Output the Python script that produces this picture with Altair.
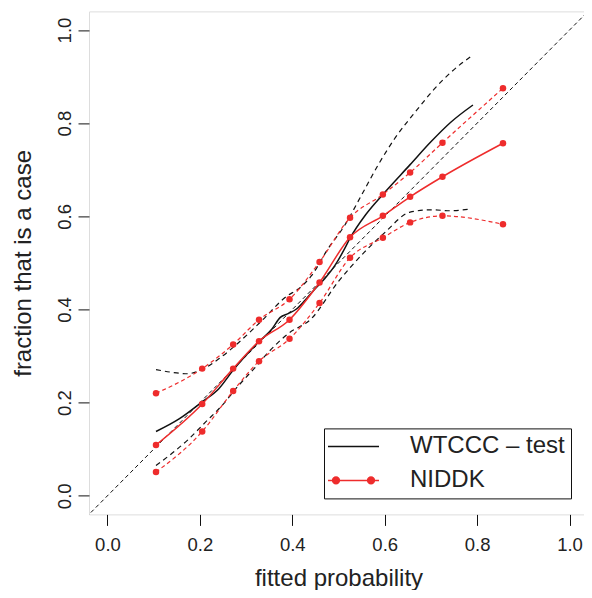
import altair as alt
import pandas as pd

# ---------------- data ----------------
niddk_x = [0.105, 0.205, 0.272, 0.328, 0.394, 0.459, 0.525, 0.596, 0.655, 0.725, 0.856]
niddk_fit = [0.109, 0.197, 0.273, 0.332, 0.378, 0.458, 0.555, 0.601, 0.642, 0.685, 0.757]
niddk_hi = [0.220, 0.273, 0.325, 0.378, 0.422, 0.502, 0.597, 0.647, 0.694, 0.758, 0.875]
niddk_lo = [0.051, 0.138, 0.225, 0.289, 0.337, 0.414, 0.511, 0.554, 0.587, 0.601, 0.583]

wt_fit_x = [0.105, 0.155, 0.204, 0.241, 0.273, 0.327, 0.356, 0.374, 0.391, 0.409, 0.427,
            0.449, 0.470, 0.492, 0.513, 0.525, 0.560, 0.596, 0.655, 0.700, 0.743, 0.791]
wt_fit_y = [0.138, 0.165, 0.201, 0.230, 0.271, 0.330, 0.358, 0.383, 0.391, 0.401, 0.419,
            0.444, 0.466, 0.494, 0.530, 0.553, 0.605, 0.647, 0.711, 0.760, 0.802, 0.839]

wt_up_x = [0.105, 0.140, 0.173, 0.204, 0.241, 0.277, 0.330, 0.390, 0.413, 0.442, 0.477,
           0.513, 0.549, 0.585, 0.621, 0.671, 0.707, 0.743, 0.789]
wt_up_y = [0.271, 0.265, 0.262, 0.271, 0.294, 0.323, 0.372, 0.430, 0.444, 0.473, 0.530,
           0.580, 0.644, 0.709, 0.766, 0.830, 0.873, 0.909, 0.945]

wt_lo_x = [0.105, 0.176, 0.212, 0.248, 0.284, 0.320, 0.348, 0.391, 0.441, 0.499, 0.556,
           0.600, 0.655, 0.700, 0.743, 0.786]
wt_lo_y = [0.065, 0.122, 0.158, 0.194, 0.237, 0.276, 0.308, 0.348, 0.380, 0.459, 0.523,
           0.565, 0.609, 0.614, 0.612, 0.616]

diag_v = [-0.1, 1.1]

series_names = ["WTCCC \u2013 test", "NIDDK"]
x_ticks = [0.0, 0.2, 0.4, 0.6, 0.8, 1.0]
y_ticks = [0.0, 0.2, 0.4, 0.6, 0.8, 1.0]

RED = "#EE2C2C"
BLACK = "#111111"
TXT = "#222222"
FONT = "Liberation Sans"

# ---------------- tables ----------------
diag_df = pd.DataFrame({"x": diag_v, "y": diag_v})
wt_fit_df = pd.DataFrame({"x": wt_fit_x, "y": wt_fit_y})
wt_band_df = pd.concat([
    pd.DataFrame({"x": wt_up_x, "y": wt_up_y, "band": "upper"}),
    pd.DataFrame({"x": wt_lo_x, "y": wt_lo_y, "band": "lower"}),
])
ni_fit_df = pd.DataFrame({"x": niddk_x, "y": niddk_fit})
ni_band_df = pd.concat([
    pd.DataFrame({"x": niddk_x, "y": niddk_hi, "band": "upper"}),
    pd.DataFrame({"x": niddk_x, "y": niddk_lo, "band": "lower"}),
])
ni_pts_df = pd.concat([
    pd.DataFrame({"x": niddk_x, "y": niddk_fit}),
    pd.DataFrame({"x": niddk_x, "y": niddk_hi}),
    pd.DataFrame({"x": niddk_x, "y": niddk_lo}),
])
legend_df = pd.DataFrame({"series": series_names, "x": [0.5, 0.5], "y": [0.5, 0.5]})

xscale = alt.Scale(domain=[-0.04, 1.04], nice=False, zero=False)
yscale = alt.Scale(domain=[-0.04, 1.04], nice=False, zero=False)

axis_common = dict(
    domain=False, grid=False, ticks=True, tickSize=11, tickColor=BLACK, tickWidth=1,
    labelFont=FONT, labelFontSize=18.5, labelColor=TXT, format=".1f",
    titleFont=FONT, titleFontSize=24, titleFontWeight="normal", titleColor=TXT,
)
xaxis = alt.Axis(values=x_ticks, title="fitted probability", labelPadding=10,
                 titlePadding=12.5, **axis_common)
yaxis = alt.Axis(values=y_ticks, title="fraction that is a case", labelAngle=270,
                 labelPadding=4, titlePadding=20, **axis_common)

X = alt.X("x:Q", scale=xscale, axis=xaxis)
Y = alt.Y("y:Q", scale=yscale, axis=yaxis)
Xn = alt.X("x:Q", scale=xscale)
Yn = alt.Y("y:Q", scale=yscale)

diag = alt.Chart(diag_df).mark_line(
    color=BLACK, strokeWidth=1.0, strokeDash=[4, 3], clip=True
).encode(x=X, y=Y)

wt_band = alt.Chart(wt_band_df).mark_line(
    color=BLACK, strokeWidth=1.2, strokeDash=[5, 4], interpolate="monotone"
).encode(x=Xn, y=Yn, detail="band:N", order="x:Q")

wt_fit = alt.Chart(wt_fit_df).mark_line(
    color=BLACK, strokeWidth=1.5, interpolate="monotone"
).encode(x=Xn, y=Yn, order="x:Q")

ni_band = alt.Chart(ni_band_df).mark_line(
    color=RED, strokeWidth=1.2, strokeDash=[4, 3], interpolate="monotone"
).encode(x=Xn, y=Yn, detail="band:N", order="x:Q")

ni_fit = alt.Chart(ni_fit_df).mark_line(
    color=RED, strokeWidth=1.5, interpolate="monotone"
).encode(x=Xn, y=Yn, order="x:Q")

ni_pts = alt.Chart(ni_pts_df).mark_circle(
    color=RED, size=42, opacity=1
).encode(x=Xn, y=Yn)

# legend symbols: custom paths (line, and line with two dots)
line_path = "M-2,0H4"
r = 0.4
def circ(cx):
    return (f"M{cx - r},0A{r},{r} 0 1,0 {cx + r},0A{r},{r} 0 1,0 {cx - r},0Z")
dot_path = line_path + circ(-1.06) + circ(3.06)

legend = alt.Legend(
    orient="none", legendX=235, legendY=417, title=None,
    strokeColor=BLACK, fillColor="white", padding=6, symbolOffset=3,
    labelFont=FONT, labelFontSize=24, labelColor=TXT, labelOffset=53,
    labelLimit=400, rowPadding=10, symbolSize=289, symbolStrokeWidth=1.5,
)
sdom = alt.Scale(domain=series_names, range=[BLACK, RED])
leg_layer = alt.Chart(legend_df).mark_point(
    filled=True, opacity=1
).encode(
    x=Xn, y=Yn,
    fill=alt.Fill("series:N", scale=sdom, legend=legend),
    stroke=alt.Stroke("series:N", scale=sdom, legend=legend),
    shape=alt.Shape("series:N", scale=alt.Scale(domain=series_names,
                                                range=[line_path, dot_path]),
                    legend=legend),
).transform_filter("false")

chart = alt.layer(diag, wt_band, wt_fit, ni_band, ni_fit, ni_pts, leg_layer).properties(
    width=499, height=503,
    autosize="none",
    padding={"left": 81, "top": 3.4, "right": -4, "bottom": 75.6},
).configure_view(
    stroke=BLACK, strokeWidth=1
).configure(font=FONT)

chart.save("out.html", embed_options={"renderer": "svg", "actions": False})
